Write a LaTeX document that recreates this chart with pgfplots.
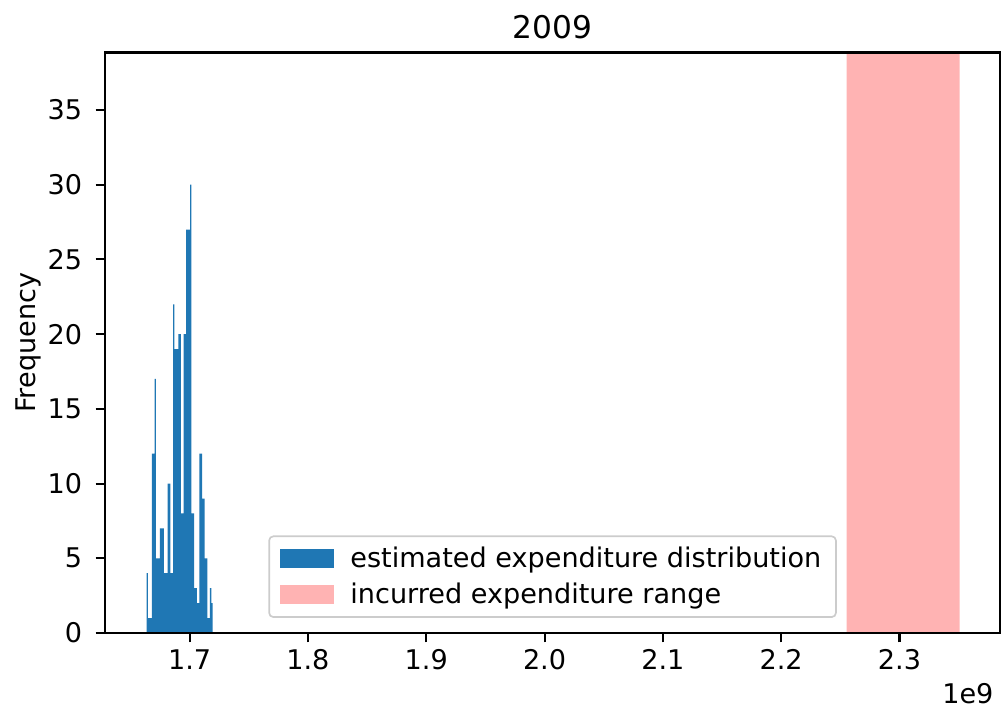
\documentclass[border=0pt]{standalone}
\usepackage{fontspec}
\setmainfont{DejaVu Sans}
\usepackage{pgfplots}
\pgfplotsset{compat=1.18}
\usetikzlibrary{calc}
\definecolor{histblue}{HTML}{1F77B4}
\definecolor{spanpink}{HTML}{FFB3B3}
\definecolor{legframe}{HTML}{CCCCCC}

\begin{document}
\begin{tikzpicture}
\begin{axis}[
  scale only axis,
  width=429.6pt, height=278.6pt,
  xmin=1.6285, xmax=2.385,
  ymin=0, ymax=38.85,
  axis on top,
  axis line style={line width=1pt, black},
  tick align=outside,
  xtick pos=lower, ytick pos=left,
  major tick length=4.5pt,
  every tick/.style={black, line width=1pt},
  xtick={1.7,1.8,1.9,2.0,2.1,2.2,2.3},
  xticklabels={1.7,1.8,1.9,2.0,2.1,2.2,2.3},
  ytick={0,5,10,15,20,25,30,35},
  /pgf/number format/assume math mode=true,
  tick label style={font=\fontsize{13}{15.6}\selectfont},
  yticklabel style={xshift=-3pt},
  ylabel={Frequency},
  ylabel shift=-4pt,
  ylabel style={font=\fontsize{13}{15.6}\selectfont},
  title={2009},
  title style={font=\fontsize{15}{18}\selectfont, yshift=-3pt},
  legend cell align=left,
  legend style={
    at={(0.5,0.026)}, anchor=south,
    draw=legframe, line width=0.8pt, rounded corners=2pt,
    fill=white, fill opacity=0.8, text opacity=1,
    font=\fontsize{13}{15.6}\selectfont,
    row sep=2pt, column sep=6pt, inner xsep=5pt, inner ysep=3pt,
  },
]
% histogram of the estimated expenditure (values in units of 1e9)
\addplot[ybar interval, fill=histblue, draw=none,
  legend image code/.code={\fill[histblue, fill opacity=1, rounded corners=0pt] (0pt,-4.5pt) rectangle (26pt,4.5pt);}]
coordinates {
(1.66365,4) (1.66477,1) (1.66588,1) (1.66700,1) (1.66811,12)
(1.66923,12) (1.67034,17) (1.67146,5) (1.67258,5) (1.67369,5)
(1.67481,7) (1.67592,7) (1.67704,7) (1.67816,4) (1.67927,4)
(1.68039,4) (1.68150,10) (1.68262,10) (1.68373,4) (1.68485,4)
(1.68597,22) (1.68708,19) (1.68820,19) (1.68931,19) (1.69043,20)
(1.69155,20) (1.69266,8) (1.69378,8) (1.69489,20) (1.69601,20)
(1.69712,27) (1.69824,27) (1.69936,27) (1.70047,30) (1.70159,8)
(1.70270,8) (1.70382,3) (1.70494,3) (1.70605,2) (1.70717,2)
(1.70828,12) (1.70940,12) (1.71051,9) (1.71163,9) (1.71275,5)
(1.71386,5) (1.71498,1) (1.71609,1) (1.71721,3) (1.71833,2)
(1.71944,0)
};
\addlegendentry{estimated expenditure distribution}
% range of the incurred expenditure
\addplot[fill=spanpink, draw=none,
  legend image code/.code={\fill[spanpink, fill opacity=1, rounded corners=0pt] (0pt,-4.5pt) rectangle (26pt,4.5pt);}]
coordinates {(2.2552,0) (2.2552,38.85) (2.3507,38.85) (2.3507,0)} \closedcycle;
\addlegendentry{incurred expenditure range}
\end{axis}
\node[anchor=base east, inner sep=0pt, font=\fontsize{13}{15.6}\selectfont]
  at ($(current axis.south east)+(-3pt,-34pt)$) {1e9};
\pgfresetboundingbox
\useasboundingbox ($(current axis.south west)+(-50.4pt,-37.4pt)$) rectangle ($(current axis.north east)+(1.4pt,25.2pt)$);
\end{tikzpicture}
\end{document}
